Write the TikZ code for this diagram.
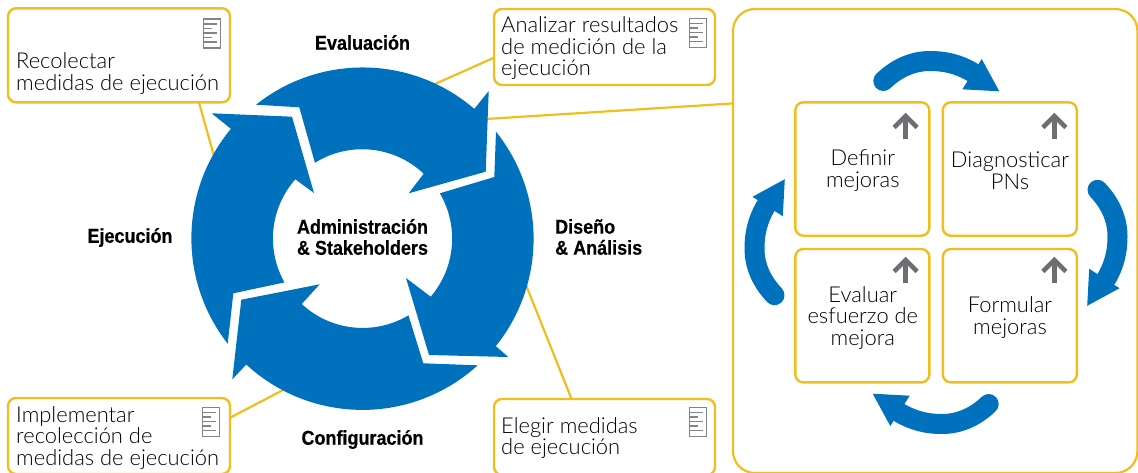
\documentclass[tikz,border=0pt]{standalone}
\usepackage{fontspec}
\usetikzlibrary{calc}
\setmainfont{Lato}[UprightFont={* Light}]
\newfontfamily\headfont{Liberation Sans}[FakeStretch=0.9,BoldFont={* Bold},BoldFeatures={FakeBold=0.4}]
\definecolor{ringblue}{HTML}{0071BC}
\definecolor{lineyellow}{HTML}{F0BE1E}
\definecolor{icongray}{HTML}{6D6E71}
\tikzset{
  box/.style={draw=lineyellow,line width=2.4pt,rounded corners=8pt,inner sep=0pt,outer sep=0pt,fill=white},
  panelbox/.style={draw=lineyellow,line width=2.2pt,rounded corners=22pt,inner sep=0pt,outer sep=0pt},
  wire/.style={draw=lineyellow,line width=2.2pt},
  bodytext/.style={inner sep=0pt,font=\fontsize{21.9}{21.5}\selectfont,text=black},
  lefttext/.style={bodytext,align=left,anchor=west},
  midtext/.style={bodytext,align=center},
  headtext/.style={inner sep=0pt,font=\headfont\bfseries\fontsize{20}{21}\selectfont,text=black},
  pics/docicon/.style={code={
    \draw[icongray!85,line width=1.7pt] (0,0) rectangle (17,29);
    \draw[icongray!85,line width=1.1pt] (0,5) -- (13,5) (0,9.5) -- (8,9.5) (0,14) -- (13,14) (0,18.5) -- (8,18.5) (0,23) -- (13,23);
  }},
  pics/uparrow/.style={code={
    \draw[icongray,line width=4.6pt] (0,0) -- (0,-24);
    \draw[icongray,line width=4.6pt,miter limit=10] (-11.5,-11.5) -- (0,-23) -- (11.5,-11.5);
  }}
}
\begin{document}
\begin{tikzpicture}[x=1pt,y=-1pt]
\useasboundingbox (0,0) rectangle (1138,472);
% named boxes
\node[box,minimum width=222pt,minimum height=94pt] (boxA) at (119,55.3) {};
\node[box,minimum width=221pt,minimum height=76pt] (boxB) at (604.5,47) {};
\node[box,minimum width=222pt,minimum height=76pt] (boxC) at (119,436) {};
\node[box,minimum width=221pt,minimum height=76pt] (boxD) at (604.5,437) {};
\node[panelbox,minimum width=404.5pt,minimum height=464pt] (panel) at (935.2,241) {};
% ring anchor points
\coordinate (ringA) at (216,163);
\coordinate (ringB) at (425,88.5);
\coordinate (ringC) at (486,119);
\coordinate (ringD) at (292,385.3);
\coordinate (ringE) at (524,280);
\draw[wire] ($(boxA.south west)!.86!(boxA.south east)$) -- (ringA);
\draw[wire] ($(boxB.north west)!.64!(boxB.south west)$) -- (ringB);
\draw[wire] ($(panel.north west)!.2035!(panel.south west)$) -- (ringC);
\draw[wire] ($(boxC.north east)!.26!(boxC.south east)$) -- (ringD);
\draw[wire] ($(boxD.north west)!.351!(boxD.north east)$) -- (ringE);
% ring arrows
\fill[ringblue] (256,104.7) arc[start angle=128.5,end angle=49.3,radius=171.3pt] -- (488.7,91) -- (485.7,171.7) -- (408.7,193.3) -- (423.7,173.7) arc[start angle=46.6,end angle=121.9,radius=89.5pt] -- (299.3,107.3) -- cycle;
\fill[ringblue] (496,131.7) arc[start angle=38.7,end angle=-38.8,radius=171.3pt] -- (508.3,357) -- (429,355) -- (406,278) -- (430.7,296.7) arc[start angle=-40.5,end angle=30.4,radius=89.5pt] -- (494.3,177) -- cycle;
\fill[ringblue] (477.7,365.3) arc[start angle=-47.7,end angle=-132.7,radius=171.3pt] -- (232.3,379.3) -- (241.3,299.7) -- (319.7,284.3) -- (301.7,304) arc[start angle=-132.9,end angle=-59.2,radius=89.5pt] -- (423.3,363.3) -- cycle;
\fill[ringblue] (227.7,343.7) arc[start angle=218,end angle=140.3,radius=171.3pt] -- (211.7,113.3) -- (292,116.7) -- (314,193) -- (295.3,179.3) arc[start angle=138.6,end angle=209.4,radius=89.5pt] -- (233.3,293.3) -- cycle;
% headings
\node[headtext] (hEval) at (362.5,42.5) {Evaluación};
\node[headtext,align=left,anchor=west] (hDis) at (555,237) {Diseño\\\& Análisis};
\node[headtext] (hEje) at (130,237.5) {Ejecución};
\node[headtext] (hConf) at (362.5,439.5) {Configuración};
\node[headtext,align=center] (hAdm) at (362.5,237) {Administración\\\& Stakeholders};
% box texts
\node[lefttext] (tA) at (16,73.5) {Recolectar\\medidas de ejecución};
\node[lefttext] (tB) at (501,48.5) {Analizar resultados\\de medición de la\\ejecución};
\node[lefttext] (tC) at (16,438) {Implementar\\recolección de\\medidas de ejecución};
\node[lefttext] (tD) at (501,438) {Elegir medidas\\de ejecución};
\pic at (203.5,19) {docicon};
\pic at (689.5,18.5) {docicon};
\pic at (202.5,407.5) {docicon};
\pic at (689.5,407.5) {docicon};
% inner panel boxes
\node[box,minimum width=134pt,minimum height=133.4pt] (b1) at (862.3,169) {};
\node[box,minimum width=134pt,minimum height=133.4pt] (b2) at (1009.8,169) {};
\node[box,minimum width=134pt,minimum height=133.4pt] (b3) at (862.3,315.7) {};
\node[box,minimum width=134pt,minimum height=133.4pt] (b4) at (1009.8,315.7) {};
\node[midtext] (t1) at (862.8,170.5) {Definir\\mejoras};
\node[midtext] (t2) at (1010,170.5) {Diagnosticar\\PNs};
\node[midtext] (t3) at (862.8,318) {Evaluar\\esfuerzo de\\mejora};
\node[midtext] (t4) at (1010,317.5) {Formular\\mejoras};
\pic at (905.7,139) {uparrow};
\pic at (1054.3,139) {uparrow};
\pic at (905.7,283) {uparrow};
\pic at (1054.3,283) {uparrow};
% cycle arrows
\foreach \a in {0,-90,-180,-270}{
  \begin{scope}[rotate around={\a:(936,242.5)}]
    \draw[ringblue,line width=20pt,line cap=round] (883.3,81) .. controls (898,67) and (914,61) .. (930,61) .. controls (945,61) and (958,64) .. (972,72);
    \fill[ringblue] (981.7,59) -- (999.3,91.3) -- (962.3,89.3) -- cycle;
  \end{scope}
}
\end{tikzpicture}
\end{document}
